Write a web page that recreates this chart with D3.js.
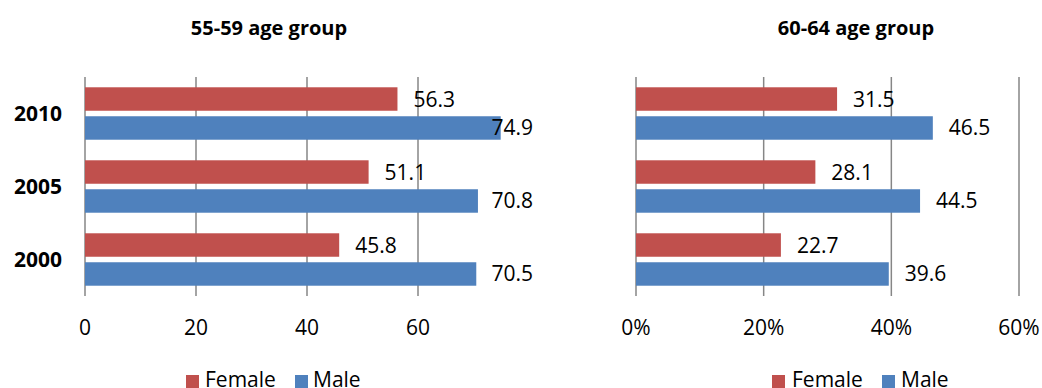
<!DOCTYPE html>
<html>
<head>
<meta charset="utf-8">
<script src="https://cdn.jsdelivr.net/npm/d3@7"></script>
<style>
  body { margin: 0; background: #fff; }
  svg { display: block; font-family: "Open Sans", sans-serif; }
</style>
</head>
<body>
<svg id="chart" width="1042" height="388"></svg>
<script>
// data
const years = ["2010", "2005", "2000"];
const series = ["Female", "Male"];
const female5559 = [56.3, 51.1, 45.8];
const male5559 = [74.9, 70.8, 70.5];
const female6064 = [31.5, 28.1, 22.7];
const male6064 = [46.5, 44.5, 39.6];
const ticks5559 = [0, 20, 40, 60];
const ticks6064 = [0, 20, 40, 60];

const colors = { Female: "#C0504D", Male: "#4F81BD" };
const gridColor = "#868686";
const textColor = "#000";

const svg = d3.select("#chart");

const drawPanel = (opt) => {
  const g = svg.append("g");

  const x = d3.scaleLinear()
    .domain([0, 60])
    .range([opt.x0, opt.x60]);

  const y = d3.scaleBand()
    .domain(years)
    .range([77, 296])
    .padding(0);

  const ySub = d3.scaleBand()
    .domain(series)
    .range([0, y.bandwidth()])
    .paddingInner(0.19)
    .paddingOuter(0.355);

  // title
  g.append("text")
    .attr("x", opt.titleX)
    .attr("y", 35)
    .attr("text-anchor", "middle")
    .attr("font-size", 20)
    .attr("font-weight", "bold")
    .attr("fill", textColor)
    .text(opt.title);

  // gridlines (first one doubles as the axis line)
  g.selectAll(".grid")
    .data(opt.ticks)
    .join("line")
      .attr("x1", d => x(d))
      .attr("x2", d => x(d))
      .attr("y1", 77)
      .attr("y2", 296)
      .attr("stroke", gridColor)
      .attr("stroke-width", 1.5);

  // tick labels
  g.selectAll(".tick-label")
    .data(opt.ticks)
    .join("text")
      .attr("x", d => x(d))
      .attr("y", 335)
      .attr("text-anchor", "middle")
      .attr("font-size", 21)
      .attr("fill", textColor)
      .text(opt.tickFormat);

  // year labels
  if (opt.showYears) {
    g.selectAll(".year")
      .data(years)
      .join("text")
        .attr("x", 62)
        .attr("y", d => y(d) + y.bandwidth() / 2 + 7)
        .attr("text-anchor", "end")
        .attr("font-size", 21)
        .attr("font-weight", "bold")
        .attr("fill", textColor)
        .text(d => d);
  }

  const rows = years.map((yr, i) => ({
    year: yr,
    values: [
      { key: "Female", value: opt.female[i] },
      { key: "Male", value: opt.male[i] }
    ]
  }));

  const groups = g.selectAll(".grp")
    .data(rows)
    .join("g")
      .attr("transform", d => `translate(0, ${y(d.year)})`);

  groups.selectAll("rect")
    .data(d => d.values)
    .join("rect")
      .attr("x", x(0))
      .attr("y", d => ySub(d.key))
      .attr("width", d => x(d.value) - x(0))
      .attr("height", ySub.bandwidth())
      .attr("fill", d => colors[d.key]);

  // value labels, kept inside the chart area like Excel does
  groups.selectAll(".val")
    .data(d => d.values)
    .join("text")
      .attr("class", "val")
      .attr("y", d => ySub(d.key) + ySub.bandwidth() / 2 + 7.5)
      .attr("font-size", 21)
      .attr("fill", textColor)
      .text(d => d.value.toFixed(1))
      .attr("x", function(d) {
        const w = this.getComputedTextLength();
        return Math.min(x(d.value) + 16, opt.rightEdge - w);
      });

  // legend (cut by the bottom edge, as in the source)
  const legend = g.append("g");
  opt.legend.forEach((l, i) => {
    legend.append("rect")
      .attr("x", l.sx)
      .attr("y", 375)
      .attr("width", 13)
      .attr("height", 13)
      .attr("fill", colors[series[i]]);
    legend.append("text")
      .attr("x", l.tx)
      .attr("y", 387)
      .attr("font-size", 21)
      .attr("fill", textColor)
      .text(series[i]);
  });
};

drawPanel({
  title: "55-59 age group",
  titleX: 269,
  x0: 85,
  x60: 418,
  ticks: ticks5559,
  tickFormat: d => d,
  female: female5559,
  male: male5559,
  showYears: true,
  rightEdge: 533,
  legend: [{ sx: 186, tx: 205 }, { sx: 295, tx: 313 }]
});

drawPanel({
  title: "60-64 age group",
  titleX: 856,
  x0: 636,
  x60: 1019,
  ticks: ticks6064,
  tickFormat: d => d + "%",
  female: female6064,
  male: male6064,
  showYears: false,
  rightEdge: 1040,
  legend: [{ sx: 772, tx: 792 }, { sx: 882, tx: 901 }]
});
</script>
</body>
</html>
